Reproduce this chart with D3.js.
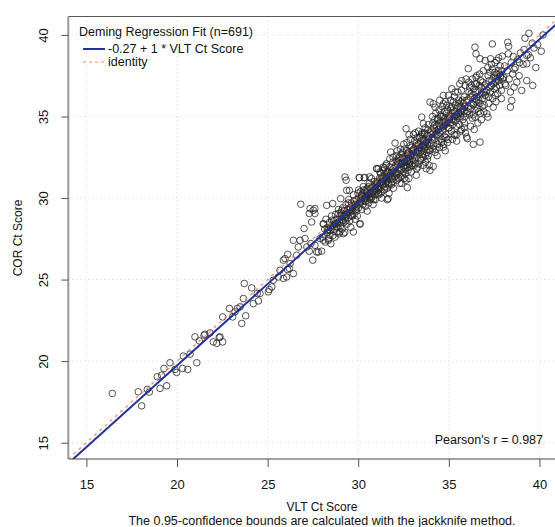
<!DOCTYPE html>
<html>
<head>
<meta charset="utf-8">
<script src="https://cdn.jsdelivr.net/npm/d3@7"></script>
<style>
  body { margin: 0; background: #fff; }
  text { font-family: "Liberation Sans", Arial, sans-serif; fill: #111; }
</style>
</head>
<body>
<div id="chart"></div>
<script>
// VLT vs COR Ct scores: [vlt, cor]
const samples = [
  [16.43,18.02],[17.86,18.12],[18.05,17.26],[18.36,18.27],[18.47,18.1],[19.06,18.33],[19.43,18.49],[18.91,19.04],
  [19.15,19.14],[19.28,19.55],[19.61,19.9],[19.89,19.49],[19.98,19.31],[20.31,19.55],[20.59,19.49],[20.35,20.31],
  [20.72,20.43],[21.09,19.9],[20.99,21.49],[21.23,21.24],[21.49,21.59],[22.0,21.18],[22.19,21.09],[22.33,21.45],
  [22.52,21.18],[21.54,21.65],[21.82,21.73],[22.37,21.49],[22.52,22.71],[22.89,23.23],[23.07,22.71],[23.2,23.02],
  [23.33,23.23],[23.48,23.33],[23.57,22.31],[23.79,22.78],[23.66,23.84],[23.71,24.76],[24.12,24.49],[24.21,23.53],
  [24.49,23.69],[24.43,24.15],[24.58,24.15],[25.04,24.25],[25.09,24.39],[25.23,24.55],[25.31,24.96],[25.59,25.16],
  [25.68,25.57],[25.87,25.07],[26.05,25.16],[26.09,25.62],[26.2,25.68],[26.42,25.37],[25.87,26.19],[25.96,26.29],
  [26.11,26.55],[26.24,25.98],[26.6,26.49],[26.69,27.0],[26.42,27.41],[26.79,27.41],[27.06,27.52],[27.01,28.13],
  [26.83,29.62],[27.16,27.0],[27.3,26.74],[27.49,26.19],[27.39,27.21],[27.61,27.1],[27.71,26.69],[27.8,26.69],
  [27.98,26.74],[27.89,27.52],[28.07,27.41],[28.35,27.41],[28.44,27.72],[28.35,28.07],[27.3,29.05],[27.43,28.53],
  [27.61,29.05],[27.34,29.35],[27.61,29.35],[28.26,29.55],[28.59,29.66],[28.07,28.43],[28.54,28.64],[28.72,28.43],
  [28.81,28.23],[28.99,27.92],[29.18,27.82],[28.9,29.05],[29.09,29.25],[29.03,29.96],[29.36,30.47],[27.52,29.25],
  [29.27,31.29],[29.33,31.09],[29.51,30.47],[30.06,31.25],[30.34,31.25],[31.02,31.8],[30.1,28.43],[29.73,27.92],
  [28.02,27.6],[28.08,28.4],[28.15,28.1],[28.18,27.3],[28.22,28.7],[28.28,27.9],[28.31,28.2],[28.36,27.5],
  [28.41,28.5],[28.45,28.0],[28.49,27.2],[28.53,28.9],[28.57,28.3],[28.6,27.7],[28.64,28.6],[28.68,28.1],
  [28.71,27.6],[28.75,29.0],[28.78,28.4],[28.82,27.9],[28.85,28.7],[28.88,28.2],[28.91,29.3],[28.94,27.8],
  [28.97,28.5],[28.99,28.9],[28.47,28.2],[28.66,28.4],[28.86,28.5],[28.3,28.0],
  [29.02,28.3],[29.05,29.1],[29.08,28.7],[29.11,28.1],[29.14,29.4],[29.17,28.9],[29.2,28.5],[29.23,29.2],
  [29.26,27.9],[29.29,28.8],[29.32,29.6],[29.35,29.0],[29.38,28.4],[29.41,29.3],[29.44,28.8],[29.47,29.9],
  [29.5,29.1],[29.53,28.6],[29.56,29.4],[29.59,28.2],[29.62,29.7],[29.65,29.2],[29.68,28.9],[29.71,29.5],
  [29.74,30.2],[29.77,29.0],[29.8,29.6],[29.83,28.7],[29.86,29.3],[29.89,29.9],[29.92,29.5],[29.95,28.9],
  [29.98,30.3],[29.1,28.9],[29.25,29.0],[29.4,29.1],[29.55,29.3],[29.7,29.4],[29.85,29.6],[29.3,28.6],
  [29.6,28.9],[29.9,29.2],[29.45,29.7],[29.75,29.8],[29.15,28.6],
  [30.01,29.4],[30.04,30.0],[30.07,29.7],[30.1,28.4],[30.13,30.4],[30.16,29.9],[30.19,29.3],[30.22,30.1],
  [30.25,29.6],[30.28,30.7],[30.31,29.8],[30.34,31.25],[30.37,30.2],[30.4,29.5],[30.43,30.5],[30.46,30.0],
  [30.49,29.2],[30.52,30.6],[30.55,30.2],[30.58,29.7],[30.61,30.9],[30.64,30.3],[30.67,29.9],[30.7,30.6],
  [30.73,31.2],[30.76,30.1],[30.79,30.7],[30.82,29.6],[30.85,30.4],[30.88,31.0],[30.91,30.5],[30.94,29.9],
  [30.97,30.8],[30.06,31.25],[30.2,30.2],[30.35,30.0],[30.5,30.3],[30.65,30.5],[30.8,30.4],[30.95,30.6],
  [30.15,29.8],[30.45,30.1],[30.75,30.3],[30.3,30.5],[30.6,30.0],[30.9,30.8],[30.25,30.3],[30.55,30.7],
  [30.85,29.9],[30.12,30.0],[30.42,29.8],[30.72,30.0],[30.02,30.5],[30.62,31.3],[30.92,30.2],
  [31.02,30.4],[31.05,31.0],[31.08,30.7],[31.11,31.8],[31.14,30.2],[31.17,31.2],[31.2,30.6],[31.23,31.5],
  [31.26,30.9],[31.29,30.0],[31.32,31.3],[31.35,30.8],[31.38,31.7],[31.41,31.1],[31.44,30.5],[31.47,31.4],
  [31.5,30.9],[31.53,32.0],[31.56,31.2],[31.59,30.6],[31.62,31.6],[31.65,29.96],[31.68,31.3],[31.71,30.8],
  [31.74,31.9],[31.77,31.4],[31.79,32.82],[31.82,30.9],[31.85,31.7],[31.88,31.2],[31.91,32.2],[31.94,30.6],
  [31.97,31.5],[31.04,30.9],[31.16,30.9],[31.28,31.0],[31.4,31.2],[31.52,31.3],[31.64,31.4],[31.76,31.5],
  [31.88,31.6],[31.1,30.5],[31.22,31.1],[31.34,31.0],[31.46,31.5],[31.58,31.0],[31.7,31.6],[31.82,31.3],
  [31.94,31.8],[31.12,30.3],[31.3,30.4],[31.48,30.7],[31.66,30.9],[31.84,30.8],[31.2,31.6],[31.38,31.9],
  [31.56,32.1],[31.74,32.4],[31.92,32.5],[31.6,29.9],[31.02,31.8],[31.45,31.85],[31.25,30.3],[31.7,30.3],
  [31.9,31.0],
  [32.02,31.3],[32.03,33.37],[32.05,31.9],[32.08,31.6],[32.11,32.6],[32.14,31.1],[32.17,32.2],[32.2,31.5],
  [32.23,32.4],[32.26,31.8],[32.29,30.9],[32.32,32.3],[32.35,31.7],[32.38,32.7],[32.41,32.1],[32.44,31.4],
  [32.47,32.5],[32.5,31.9],[32.53,33.0],[32.56,32.2],[32.59,31.5],[32.62,32.6],[32.64,34.25],[32.64,31.09],
  [32.66,32.0],[32.69,32.9],[32.71,30.64],[32.72,32.3],[32.75,31.7],[32.78,32.8],[32.8,33.88],[32.81,32.4],
  [32.84,31.9],[32.87,33.2],[32.9,32.6],[32.93,31.6],[32.96,32.9],[32.99,32.4],[32.06,32.0],[32.18,32.0],
  [32.3,32.1],[32.42,32.2],[32.54,32.3],[32.66,32.4],[32.78,32.5],[32.9,32.7],[32.12,31.4],[32.24,31.2],
  [32.36,31.3],[32.48,31.6],[32.6,31.8],[32.72,31.9],[32.84,32.1],[32.96,32.0],[32.15,32.9],[32.33,33.0],
  [32.51,33.3],[32.69,33.4],[32.87,33.6],[32.4,30.9],[32.8,31.2],[32.1,32.3],[32.45,32.8],[32.58,32.0],
  [32.7,32.7],[32.95,33.1],[32.25,32.5],[32.85,32.2],[32.55,31.2],
  [33.02,32.3],[33.05,33.0],[33.08,32.6],[33.11,33.5],[33.14,32.1],[33.17,33.2],[33.2,32.5],[33.23,33.4],
  [33.26,32.8],[33.29,31.9],[33.32,33.3],[33.35,32.7],[33.38,33.7],[33.41,33.1],[33.44,32.4],[33.47,33.5],
  [33.5,34.96],[33.5,32.9],[33.53,34.0],[33.56,33.2],[33.59,34.56],[33.59,32.5],[33.62,33.6],[33.65,33.0],
  [33.68,33.9],[33.69,33.12],[33.71,32.2],[33.74,33.4],[33.77,32.8],[33.8,33.8],[33.83,33.3],[33.86,32.6],
  [33.89,33.7],[33.92,32.0],[33.95,33.2],[33.96,31.7],[33.96,35.88],[33.98,34.0],[33.04,32.9],[33.16,32.8],
  [33.28,33.0],[33.4,33.1],[33.52,33.2],[33.64,33.3],[33.76,33.5],[33.88,33.6],[33.1,32.0],[33.22,31.8],
  [33.34,32.1],[33.46,32.3],[33.58,32.0],[33.7,32.6],[33.82,32.4],[33.94,32.9],[33.15,34.0],[33.33,34.1],
  [33.51,33.9],[33.69,34.3],[33.87,34.5],[33.25,33.7],[33.45,33.8],[33.65,34.0],[33.85,34.2],[33.35,32.9],
  [33.6,33.4],[33.9,33.0],[33.2,31.4],[33.75,31.8],[33.05,33.9],[33.55,32.7],
  [34.02,33.4],[34.05,34.1],[34.08,33.7],[34.11,34.6],[34.14,31.94],[34.14,35.78],[34.14,33.2],[34.17,34.3],
  [34.2,33.6],[34.23,34.5],[34.24,35.57],[34.26,33.9],[34.29,33.0],[34.32,34.4],[34.35,33.8],[34.38,34.8],
  [34.41,34.2],[34.44,33.5],[34.47,34.6],[34.5,34.0],[34.53,35.1],[34.56,34.3],[34.59,33.6],[34.62,34.7],
  [34.65,34.1],[34.68,35.0],[34.7,33.12],[34.7,35.78],[34.7,36.29],[34.72,34.4],[34.75,33.8],[34.78,34.9],
  [34.81,34.5],[34.84,33.7],[34.87,35.2],[34.88,35.68],[34.9,34.6],[34.93,33.4],[34.96,34.9],[34.99,34.3],
  [34.06,33.9],[34.18,34.0],[34.3,34.1],[34.42,34.2],[34.54,34.4],[34.66,34.5],[34.78,34.6],[34.9,34.8],
  [34.12,33.0],[34.24,32.8],[34.36,33.3],[34.48,33.1],[34.6,33.4],[34.72,33.3],[34.84,33.9],[34.96,33.6],
  [34.1,35.0],[34.28,35.2],[34.46,35.4],[34.64,35.6],[34.82,35.9],[34.22,34.8],[34.4,34.9],[34.58,35.0],
  [34.76,35.3],[34.94,35.4],[34.35,32.6],[34.8,32.9],[34.5,36.0],[34.98,36.3],
  [35.02,34.3],[35.05,35.0],[35.08,34.6],[35.11,35.5],[35.14,34.1],[35.16,36.7],[35.17,35.2],[35.2,34.5],
  [35.23,35.4],[35.26,34.8],[35.29,33.9],[35.32,35.3],[35.34,33.84],[35.35,34.7],[35.38,35.7],[35.41,35.1],
  [35.43,33.49],[35.44,34.4],[35.47,35.5],[35.5,34.9],[35.53,36.0],[35.56,35.2],[35.59,34.5],[35.62,35.6],
  [35.65,35.0],[35.68,35.9],[35.71,37.2],[35.71,34.2],[35.74,35.4],[35.77,34.8],[35.8,35.8],[35.83,35.3],
  [35.86,34.6],[35.89,35.7],[35.92,34.0],[35.95,35.2],[35.98,33.74],[35.98,36.0],[35.04,34.9],[35.16,34.8],
  [35.28,35.0],[35.4,35.1],[35.52,35.2],[35.64,35.3],[35.76,35.5],[35.88,35.6],[35.1,36.0],[35.3,36.2],
  [35.5,36.5],[35.7,36.6],[35.9,36.9],[35.2,33.6],[35.45,33.9],[35.65,34.1],[35.85,34.3],[35.25,35.9],
  [35.55,35.8],[35.85,36.2],[35.35,36.5],[35.6,37.0],[35.95,37.3],[35.15,35.6],[35.45,35.0],[35.75,36.0],
  [35.9,35.0],
  [36.02,33.64],[36.02,35.3],[36.05,36.0],[36.07,37.93],[36.08,35.6],[36.11,36.5],[36.14,35.1],[36.17,36.2],
  [36.2,35.5],[36.23,36.4],[36.26,35.8],[36.29,34.9],[36.32,36.3],[36.35,33.29],[36.35,35.7],[36.38,36.7],
  [36.41,36.1],[36.44,39.25],[36.44,34.96],[36.44,35.4],[36.47,36.5],[36.5,38.84],[36.5,35.9],[36.53,37.0],
  [36.54,37.5],[36.56,36.2],[36.59,35.5],[36.62,36.6],[36.65,36.0],[36.68,36.9],[36.72,38.54],[36.72,33.43],
  [36.72,35.8],[36.75,35.2],[36.78,36.8],[36.81,36.4],[36.84,35.6],[36.87,37.1],[36.9,36.5],[36.93,35.3],
  [36.96,36.9],[36.99,36.3],[36.1,37.1],[36.3,37.3],[36.5,37.4],[36.7,37.6],[36.9,37.8],[36.2,34.4],
  [36.4,34.2],[36.6,34.6],[36.8,34.8],[36.15,36.8],[36.45,37.0],[36.75,37.2],[36.25,36.9],[36.55,36.0],
  [36.85,36.1],[36.35,35.1],[36.65,35.3],[36.95,35.7],
  [37.0,38.43],[37.02,36.3],[37.05,37.0],[37.1,35.17],[37.11,36.6],[37.16,34.96],[37.17,37.5],[37.2,36.2],
  [37.23,37.2],[37.27,37.72],[37.29,36.5],[37.3,38.54],[37.35,36.9],[37.4,37.9],[37.42,36.1],[37.45,35.57],
  [37.47,37.4],[37.5,36.7],[37.53,37.7],[37.56,36.3],[37.59,37.1],[37.62,36.8],[37.64,38.43],[37.66,37.6],
  [37.7,36.4],[37.73,37.82],[37.75,37.2],[37.8,36.9],[37.83,38.1],[37.86,37.4],[37.9,36.6],[37.93,37.8],
  [37.97,37.3],[37.4,39.45],[37.05,36.5],[37.25,36.8],[37.45,37.0],[37.65,37.3],[37.85,37.5],[37.15,38.0],
  [37.35,38.2],[37.55,38.3],[37.75,38.6],[37.95,38.7],[37.2,35.8],[37.6,35.9],[37.9,36.1],[37.38,37.2],
  [37.58,37.4],[37.78,37.6],
  [38.02,37.4],[38.08,38.1],[38.15,36.9],[38.22,37.8],[38.25,39.55],[38.28,38.84],[38.3,39.3],[38.33,37.3],
  [38.4,36.5],[38.4,35.57],[38.45,38.3],[38.47,35.98],[38.52,37.6],[38.56,38.68],[38.6,36.8],[38.67,38.0],
  [38.75,37.1],[38.8,38.5],[38.88,37.5],[38.95,38.9],[39.02,36.6],[39.1,38.2],[39.2,39.8],[39.3,38.74],
  [39.3,38.23],[39.3,37.2],[39.38,38.8],[39.42,40.1],[39.5,38.6],[39.63,36.9],[39.7,39.2],[39.8,38.0],
  [39.9,39.4],[40.1,39.0],[40.2,40.0],[38.1,37.0],[38.6,37.9],[38.9,38.3],[39.15,39.1],[39.6,39.5]
];

const xTicks = [15, 20, 25, 30, 35, 40];
const yTicks = [15, 20, 25, 30, 35, 40];
const fit = {intercept: -0.27, slope: 1};
const legendTitle = 'Deming Regression Fit (n=691)';
const legendLabels = ['-0.27 + 1 * VLT Ct Score', 'identity'];
const pearsonLabel = "Pearson's r = 0.987";
const xTitle = 'VLT Ct Score';
const yTitle = 'COR Ct Score';
const subTitle = 'The 0.95-confidence bounds are calculated with the jackknife method.';

const width = 555;
const height = 527;
const plot = {left: 68.3, top: 16.5, right: 561.2, bottom: 459};

const svg = d3.select('#chart')
    .append('svg')
        .attr('width', width)
        .attr('height', height);

const x = d3.scaleLinear().domain([14, 41.2]).range([plot.left, plot.right]);
const y = d3.scaleLinear().domain([14, 41.13]).range([plot.bottom, plot.top]);

svg.append('defs').append('clipPath').attr('id', 'clip')
    .append('rect')
        .attr('x', plot.left).attr('y', plot.top)
        .attr('width', plot.right - plot.left).attr('height', plot.bottom - plot.top);

// dotted grid
const grid = svg.append('g')
    .attr('stroke', '#d4d4d4')
    .attr('stroke-dasharray', '1 3');
grid.selectAll('.gx').data(xTicks).join('line')
    .attr('x1', d => x(d)).attr('x2', d => x(d))
    .attr('y1', plot.top).attr('y2', plot.bottom);
grid.selectAll('.gy').data(yTicks).join('line')
    .attr('y1', d => y(d)).attr('y2', d => y(d))
    .attr('x1', plot.left).attr('x2', plot.right);

// points
svg.append('g')
    .attr('clip-path', 'url(#clip)')
    .selectAll('circle')
    .data(samples)
    .join('circle')
        .attr('cx', d => x(d[0]))
        .attr('cy', d => y(d[1]))
        .attr('r', 3.3)
        .attr('fill', 'none')
        .attr('stroke', '#262626')
        .attr('stroke-width', 0.8);

// identity and fit lines
const lines = svg.append('g').attr('clip-path', 'url(#clip)');
const ends = x.domain();
lines.append('line')
    .attr('x1', x(ends[0])).attr('y1', y(fit.intercept + fit.slope * ends[0]))
    .attr('x2', x(ends[1])).attr('y2', y(fit.intercept + fit.slope * ends[1]))
    .attr('stroke', '#2233a0')
    .attr('stroke-width', 2);
lines.append('line')
    .attr('x1', x(ends[0])).attr('y1', y(ends[0]))
    .attr('x2', x(ends[1])).attr('y2', y(ends[1]))
    .attr('stroke', '#ef7a50')
    .attr('stroke-opacity', 0.75)
    .attr('stroke-width', 1.5)
    .attr('stroke-dasharray', '3 4');

// box
svg.append('line')
    .attr('x1', plot.left).attr('x2', plot.right).attr('y1', plot.top).attr('y2', plot.top)
    .attr('stroke', '#555');
svg.append('line')
    .attr('x1', plot.left).attr('x2', plot.right).attr('y1', plot.bottom).attr('y2', plot.bottom)
    .attr('stroke', '#444');
svg.append('line')
    .attr('x1', plot.left).attr('x2', plot.left).attr('y1', plot.top).attr('y2', plot.bottom)
    .attr('stroke', '#999').attr('stroke-width', 2);

// x axis
const xAxis = svg.append('g')
    .attr('transform', `translate(0, ${plot.bottom})`)
    .call(d3.axisBottom(x).tickValues(xTicks).tickSize(8).tickPadding(13).tickFormat(d3.format('d')));
xAxis.select('.domain').remove();
xAxis.selectAll('line').attr('stroke', '#555');
xAxis.selectAll('text').style('font-size', '13px').style('font-family', '"Liberation Sans", Arial, sans-serif').attr('fill', '#111');

// y axis, labels turned like R does
const yAxis = svg.append('g')
    .attr('transform', `translate(${plot.left}, 0)`)
    .call(d3.axisLeft(y).tickValues(yTicks).tickSize(7).tickFormat(d3.format('d')));
yAxis.select('.domain').remove();
yAxis.selectAll('line').attr('stroke', '#555');
yAxis.selectAll('text')
    .attr('x', null).attr('dy', null)
    .attr('text-anchor', 'middle')
    .attr('transform', 'translate(-20, 0) rotate(-90)')
    .attr('fill', '#111')
    .style('font-size', '13px')
    .style('font-family', '"Liberation Sans", Arial, sans-serif');

// titles
svg.append('text')
    .attr('x', 322).attr('y', 511)
    .attr('text-anchor', 'middle')
    .style('font-size', '12px')
    .text(xTitle);
svg.append('text')
    .attr('x', 322).attr('y', 525)
    .attr('text-anchor', 'middle')
    .style('font-size', '12.5px')
    .text(subTitle);
svg.append('text')
    .attr('transform', 'translate(22, 238) rotate(-90)')
    .attr('text-anchor', 'middle')
    .style('font-size', '12px')
    .text(yTitle);

// legend
const legend = svg.append('g');
legend.append('text')
    .attr('x', 79).attr('y', 36)
    .style('font-size', '12.5px')
    .text(legendTitle);
legend.append('line')
    .attr('x1', 83).attr('x2', 105).attr('y1', 49).attr('y2', 49)
    .attr('stroke', '#2233a0').attr('stroke-width', 2);
legend.append('text')
    .attr('x', 108).attr('y', 53)
    .style('font-size', '12.5px')
    .text(legendLabels[0]);
legend.append('line')
    .attr('x1', 83).attr('x2', 105).attr('y1', 62).attr('y2', 62)
    .attr('stroke', '#f4b496').attr('stroke-width', 1.3)
    .attr('stroke-dasharray', '3 3');
legend.append('text')
    .attr('x', 108).attr('y', 66)
    .style('font-size', '12.5px')
    .text(legendLabels[1]);

svg.append('text')
    .attr('x', 543).attr('y', 444)
    .attr('text-anchor', 'end')
    .style('font-size', '12.5px')
    .text(pearsonLabel);
</script>
</body>
</html>
